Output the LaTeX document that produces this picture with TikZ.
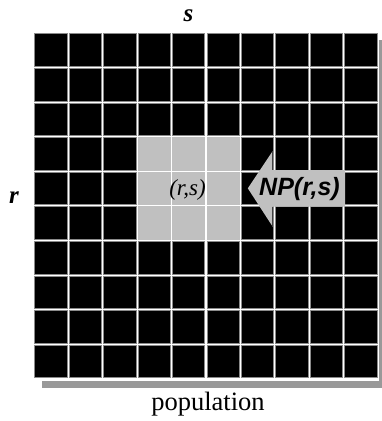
\documentclass[tikz,border=0pt]{standalone}
\usepackage{fontspec}
\setmainfont{Liberation Serif}
\newfontfamily\arialfam{Liberation Sans}
\definecolor{lightg}{HTML}{C0C0C0}
\definecolor{shadowg}{HTML}{999999}
\definecolor{edgeg}{HTML}{8A8A8A}
\begin{document}
\begin{tikzpicture}[x=1pt,y=-1pt,
  cell/.style={fill=black,draw=edgeg,line width=0.6pt},
  hcell/.style={fill=lightg,draw=lightg,line width=0.6pt},
  lab/.style={anchor=base,inner sep=0pt}]
\useasboundingbox (0,0) rectangle (382,421);
\clip (0,0) rectangle (382,421);
% shadow and white frame
\fill[shadowg] (41.5,40) rectangle (392,387.5);
\fill[white] (33,32) rectangle (378.6,380.6);
% cells
\foreach \i in {0,...,9} {
  \foreach \j in {0,...,9} {
    \pgfmathsetmacro\cx{34.6+\i*34.45}
    \pgfmathsetmacro\cy{33.6+\j*34.6}
    \draw[cell] (\cx,\cy) rectangle ++(32.3,32.6);
  }
}
\foreach \i in {3,4,5} {
  \foreach \j in {3,4,5} {
    \pgfmathsetmacro\cx{34.6+\i*34.45}
    \pgfmathsetmacro\cy{33.6+\j*34.6}
    \draw[hcell] (\cx,\cy) rectangle ++(32.3,32.6);
  }
}
% arrow
\fill[lightg] (247.8,188.3) -- (272.7,151) -- (272.7,170) -- (345,170)
  -- (345,206.7) -- (272.7,206.7) -- (272.7,226.7) -- cycle;
\draw[black!75,line width=0.9pt] (272.7,151) -- (272.7,170)
  (272.7,206.7) -- (272.7,226.7);
% labels
\node[lab,font=\arialfam\bfseries\itshape\fontsize{25}{30}\selectfont] (np) at (299.5,195.5) {NP(r,s)};
\node[lab,font=\itshape\fontsize{23}{28}\selectfont] (rs) at (187.5,195) {(r,s)};
\node[lab,font=\bfseries\itshape\fontsize{25}{30}\selectfont] (stop) at (188.5,21.7) {s};
\node[lab,font=\bfseries\itshape\fontsize{25}{30}\selectfont] (rlab) at (14,203.3) {r};
\node[lab,font=\fontsize{26.5}{32}\selectfont] (pop) at (208,410) {population};
\end{tikzpicture}
\end{document}
